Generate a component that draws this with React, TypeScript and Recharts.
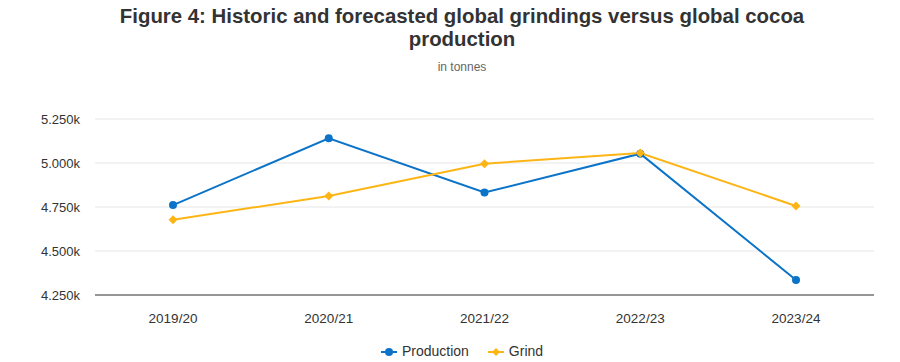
import { CartesianGrid, Line, LineChart, XAxis, YAxis } from 'recharts';

const seasons = ['2019/20', '2020/21', '2021/22', '2022/23', '2023/24'];
const production = [4761, 5140, 4832, 5053, 4335];
const grind = [4678, 4812, 4996, 5057, 4756];
const yTicks = [4250, 4500, 4750, 5000, 5250];

const BLUE = '#0b73c8';
const ORANGE = '#fdb515';
const FONT = '"Liberation Sans", Arial, sans-serif';

const data = seasons.map((season, i) => ({
  season,
  production: production[i],
  grind: grind[i],
}));

const Diamond = (props: any) => {
  const { cx, cy, index } = props;
  if (cx == null || cy == null) return <g key={`gd-${index}`} />;
  const s = 4.5;
  return (
    <path
      key={`gd-${index}`}
      d={`M${cx},${cy - s}L${cx + s},${cy}L${cx},${cy + s}L${cx - s},${cy}Z`}
      fill={ORANGE}
    />
  );
};

function LegendIcon({ color, diamond }: { color: string; diamond?: boolean }) {
  return (
    <svg width={16} height={10} style={{ marginRight: 5, verticalAlign: 'middle' }}>
      <line x1={0} y1={5} x2={16} y2={5} stroke={color} strokeWidth={2} />
      {diamond ? (
        <path d="M8,1L12,5L8,9L4,5Z" fill={color} />
      ) : (
        <circle cx={8} cy={5} r={4} fill={color} />
      )}
    </svg>
  );
}

export default function App() {
  return (
    <div style={{ position: 'relative', width: 900, height: 362, background: '#fff', fontFamily: FONT }}>
      <style>{'body{margin:0}'}</style>
      <div
        style={{
          position: 'absolute',
          top: 5,
          left: 12,
          width: 900,
          textAlign: 'center',
          fontSize: 20.4,
          fontWeight: 'bold',
          lineHeight: '23px',
          color: '#333',
        }}
      >
        Figure 4: Historic and forecasted global grindings versus global cocoa
        <br />
        production
      </div>
      <div
        style={{
          position: 'absolute',
          top: 60,
          left: 12,
          width: 900,
          textAlign: 'center',
          fontSize: 12,
          lineHeight: '14px',
          color: '#666',
        }}
      >
        in tonnes
      </div>
      <div style={{ position: 'absolute', top: 0, left: 0 }}>
        <LineChart width={900} height={362} data={data} margin={{ top: 119, right: 26, bottom: 37, left: 0 }}>
          <CartesianGrid vertical={false} stroke="#e6e6e6" />
          <XAxis
            dataKey="season"
            padding={{ left: 78, right: 78 }}
            axisLine={{ stroke: '#777', strokeWidth: 1.5 }}
            tickLine={false}
            tickMargin={12}
            tick={{ fontSize: 13.5, fill: '#333', fontFamily: FONT }}
          />
          <YAxis
            width={95}
            domain={[4250, 5250]}
            ticks={yTicks}
            axisLine={false}
            tickLine={false}
            tickMargin={9}
            tick={{ fontSize: 13, fill: '#333', fontFamily: FONT }}
            tickFormatter={(v: number) => `${(v / 1000).toFixed(3)}k`}
          />
          <Line
            type="linear"
            dataKey="production"
            name="Production"
            stroke={BLUE}
            strokeWidth={2}
            dot={{ r: 4, fill: BLUE, stroke: BLUE, strokeWidth: 0 }}
            activeDot={false}
            isAnimationActive={false}
          />
          <Line
            type="linear"
            dataKey="grind"
            name="Grind"
            stroke={ORANGE}
            strokeWidth={2}
            dot={Diamond}
            activeDot={false}
            isAnimationActive={false}
          />
        </LineChart>
      </div>
      <div
        style={{
          position: 'absolute',
          top: 343,
          left: 12,
          width: 900,
          textAlign: 'center',
          fontSize: 14,
          lineHeight: '16px',
          color: '#333',
        }}
      >
        <span style={{ marginRight: 19 }}>
          <LegendIcon color={BLUE} />
          Production
        </span>
        <span>
          <LegendIcon color={ORANGE} diamond />
          Grind
        </span>
      </div>
    </div>
  );
}
